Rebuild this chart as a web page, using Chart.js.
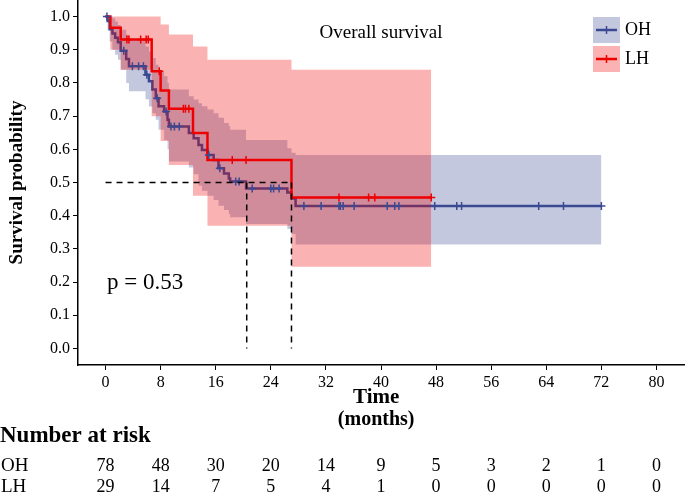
<!DOCTYPE html>
<html>
<head>
<meta charset="utf-8">
<script src="https://cdn.jsdelivr.net/npm/chart.js@4/dist/chart.umd.min.js"></script>
<style>
  html, body { margin: 0; padding: 0; background: #fff; }
  canvas { display: block; }
</style>
</head>
<body>
<canvas id="km" width="685" height="497"></canvas>
<script>
"use strict";
// OH group: event times, survival, 95% CI
const ohTime  = [0, 0.3, 0.6, 1.0, 1.4, 1.8, 2.2, 3.0, 3.4, 5.8, 6.3, 6.8, 7.3, 7.7, 8.5, 9.0, 9.2, 12.1, 12.8, 13.5, 14.0, 14.8, 15.7, 16.4, 17.2, 17.9, 18.1, 20.4, 26.4, 27.0, 27.6, 72];
const ohSurv  = [1, 0.987, 0.962, 0.949, 0.936, 0.923, 0.897, 0.872, 0.85, 0.825, 0.805, 0.78, 0.754, 0.73, 0.714, 0.689, 0.669, 0.649, 0.633, 0.613, 0.598, 0.583, 0.568, 0.543, 0.527, 0.512, 0.503, 0.482, 0.47, 0.452, 0.429, 0.429];
const ohUpper = [1, 1, 1, 0.995, 0.985, 0.975, 0.96, 0.945, 0.93, 0.91, 0.895, 0.875, 0.855, 0.835, 0.82, 0.8, 0.78, 0.76, 0.75, 0.739, 0.73, 0.72, 0.709, 0.695, 0.679, 0.67, 0.659, 0.628, 0.603, 0.59, 0.583, 0.583];
const ohLower = [1, 0.96, 0.925, 0.9, 0.885, 0.87, 0.84, 0.8, 0.775, 0.751, 0.729, 0.709, 0.689, 0.659, 0.628, 0.6, 0.563, 0.545, 0.525, 0.49, 0.475, 0.46, 0.447, 0.43, 0.417, 0.405, 0.395, 0.375, 0.36, 0.345, 0.313, 0.313];
const ohCensor = [0.2, 2.65, 3.9, 4.8, 5.5, 6.0, 7.5, 8.8, 9.5, 10.0, 10.7, 15.0, 16.6, 18.9, 19.4, 21.3, 24.0, 24.4, 25.2, 28.8, 31.3, 33.9, 34.1, 34.5, 36.1, 40.9, 42.0, 42.6, 47.8, 51.0, 51.7, 62.9, 66.5, 72.0];

// LH group
const lhTime  = [0, 0.7, 2.2, 6.7, 8.0, 9.2, 12.7, 14.8, 27.0, 47.3];
const lhSurv  = [1, 0.966, 0.931, 0.835, 0.777, 0.722, 0.649, 0.568, 0.455, 0.455];
const lhUpper = [1, 1, 1, 1, 0.976, 0.946, 0.91, 0.87, 0.84, 0.84];
const lhLower = [1, 0.9, 0.84, 0.7, 0.625, 0.553, 0.46, 0.37, 0.246, 0.246];
const lhCensor = [3.1, 3.4, 5.1, 5.9, 6.2, 7.8, 11.3, 11.6, 12.1, 18.4, 20.4, 33.9, 38.2, 39.1, 47.3];

// median survival times (dashed guides)
const medianTimes = [20.5, 27.0];

// risk table
const riskTimes = [0, 8, 16, 24, 32, 40, 48, 56, 64, 72, 80];
const ohRisk = [78, 48, 30, 20, 14, 9, 5, 3, 2, 1, 0];
const lhRisk = [29, 14, 7, 5, 4, 1, 0, 0, 0, 0, 0];

const yTicks = [0, 0.1, 0.2, 0.3, 0.4, 0.5, 0.6, 0.7, 0.8, 0.9, 1.0];

const blue = "#3B4992";
const red = "#EE0000";
const blueBand = "rgba(59,73,146,0.3)";
const redBand = "rgba(238,0,0,0.3)";
const serif = "'Liberation Serif', 'Times New Roman', serif";

function pts(times, vals) {
    return times.map((t, i) => ({ x: t, y: vals[i] }));
}
function survAt(times, surv, t) {
    let s = surv[0];
    for (let i = 0; i < times.length; i++) if (times[i] <= t) s = surv[i];
    return s;
}
function noPad(s) {
    s.paddingTop = 0; s.paddingBottom = 0; s.paddingLeft = 0; s.paddingRight = 0;
}

// Chart.js "before" = hold the value, then drop at the next time (KM style)
const stepBase = { stepped: "before", pointRadius: 0, borderWidth: 0, tension: 0 };

const datasets = [
    Object.assign({ label: "OH lower", data: pts(ohTime, ohLower), fill: false, order: 20 }, stepBase),
    Object.assign({ label: "OH upper", data: pts(ohTime, ohUpper), fill: 0, backgroundColor: blueBand, order: 19 }, stepBase),
    { label: "OH", data: pts(ohTime, ohSurv), stepped: "before", borderColor: blue, borderWidth: 2.5, pointRadius: 0, fill: false, order: 18 },
    Object.assign({ label: "LH lower", data: pts(lhTime, lhLower), fill: false, order: 16 }, stepBase),
    Object.assign({ label: "LH upper", data: pts(lhTime, lhUpper), fill: 3, backgroundColor: redBand, order: 15 }, stepBase),
    { label: "LH", data: pts(lhTime, lhSurv), stepped: "before", borderColor: red, borderWidth: 2.5, pointRadius: 0, fill: false, order: 14 },
    { type: "scatter", label: "OH censor", data: ohCensor.map(t => ({ x: t, y: survAt(ohTime, ohSurv, t) })),
      pointStyle: "cross", pointRadius: 4, borderColor: blue, borderWidth: 1.5, order: 3 },
    { type: "scatter", label: "LH censor", data: lhCensor.map(t => ({ x: t, y: survAt(lhTime, lhSurv, t) })),
      pointStyle: "cross", pointRadius: 4, borderColor: red, borderWidth: 1.5, order: 2 },
    { label: "median h", data: [{ x: 0, y: 0.5 }, { x: Math.max(...medianTimes), y: 0.5 }],
      borderColor: "#000", borderWidth: 1.5, borderDash: [6, 5], pointRadius: 0, fill: false, order: 1 }
];
medianTimes.forEach(m => {
    datasets.push({ label: "median v", data: [{ x: m, y: 0.5 }, { x: m, y: 0 }],
        borderColor: "#000", borderWidth: 1.5, borderDash: [6, 5], pointRadius: 0, fill: false, order: 1 });
});

const extras = {
    id: "extras",
    afterDraw(chart) {
        const ctx = chart.ctx;
        const xs = chart.scales.x;
        ctx.save();
        ctx.fillStyle = "#000";
        ctx.textBaseline = "middle";

        ctx.font = "19px " + serif;
        ctx.textAlign = "center";
        ctx.fillText("Overall survival", 381, 33);

        ctx.font = "23px " + serif;
        ctx.textAlign = "left";
        ctx.fillText("p = 0.53", 107, 283);

        // legend
        [["OH", blue, blueBand, 17], ["LH", red, redBand, 46]].forEach(([name, col, band, top]) => {
            ctx.fillStyle = band;
            ctx.fillRect(593, top, 27, 26);
            ctx.strokeStyle = col;
            ctx.lineWidth = 2.5;
            ctx.beginPath();
            ctx.moveTo(596, top + 13);
            ctx.lineTo(617, top + 13);
            ctx.stroke();
            ctx.lineWidth = 1.5;
            ctx.beginPath();
            ctx.moveTo(606.5, top + 9);
            ctx.lineTo(606.5, top + 17);
            ctx.stroke();
            ctx.fillStyle = "#000";
            ctx.font = "18px " + serif;
            ctx.textAlign = "left";
            ctx.fillText(name, 625, top + 13);
        });

        // x title
        ctx.textAlign = "center";
        const cx = xs.getPixelForValue(39.3);
        ctx.font = "bold 21px " + serif;
        ctx.fillText("Time", cx, 398);
        ctx.font = "bold 20px " + serif;
        ctx.fillText("(months)", cx, 420);

        // risk table
        ctx.textAlign = "left";
        ctx.font = "bold 23px " + serif;
        ctx.fillText("Number at risk", 0, 436);
        ctx.font = "19px " + serif;
        ctx.fillText("OH", 1, 466);
        ctx.fillText("LH", 1, 487);
        ctx.textAlign = "center";
        ctx.font = "18px " + serif;
        riskTimes.forEach((t, i) => {
            const px = xs.getPixelForValue(t);
            ctx.fillText(String(ohRisk[i]), px, 466);
            ctx.fillText(String(lhRisk[i]), px, 487);
        });
        ctx.restore();
    }
};

new Chart(document.getElementById("km"), {
    type: "line",
    data: { datasets: datasets },
    options: {
        responsive: false,
        animation: false,
        devicePixelRatio: 1,
        layout: { autoPadding: false, padding: { top: 0, right: 1, bottom: 0, left: 0 } },
        plugins: { legend: { display: false }, tooltip: { enabled: false } },
        scales: {
            x: {
                type: "linear",
                min: -4,
                max: 84,
                afterBuildTicks: s => { s.ticks = riskTimes.map(v => ({ value: v })); },
                afterFit: s => { s.height = 132; noPad(s); },
                ticks: { color: "#000", font: { family: serif, size: 16 }, padding: 3, maxRotation: 0 },
                grid: { drawOnChartArea: false, drawTicks: true, tickLength: 5, color: "#000", lineWidth: 1 },
                border: { display: true, color: "#000", width: 1.5 }
            },
            y: {
                type: "linear",
                min: -0.05,
                max: 1.05,
                afterBuildTicks: s => { s.ticks = yTicks.map(v => ({ value: v })); },
                afterFit: s => { s.width = 78; noPad(s); },
                ticks: { color: "#000", font: { family: serif, size: 16 }, padding: 3, callback: v => Number(v).toFixed(1) },
                grid: { drawOnChartArea: false, drawTicks: true, tickLength: 5, color: "#000", lineWidth: 1 },
                border: { display: true, color: "#000", width: 1.5 },
                title: { display: true, text: "Survival probability", color: "#000", font: { family: serif, size: 19, weight: "bold" }, padding: { top: 6, bottom: 4 } }
            }
        }
    },
    plugins: [extras]
});
</script>
</body>
</html>
